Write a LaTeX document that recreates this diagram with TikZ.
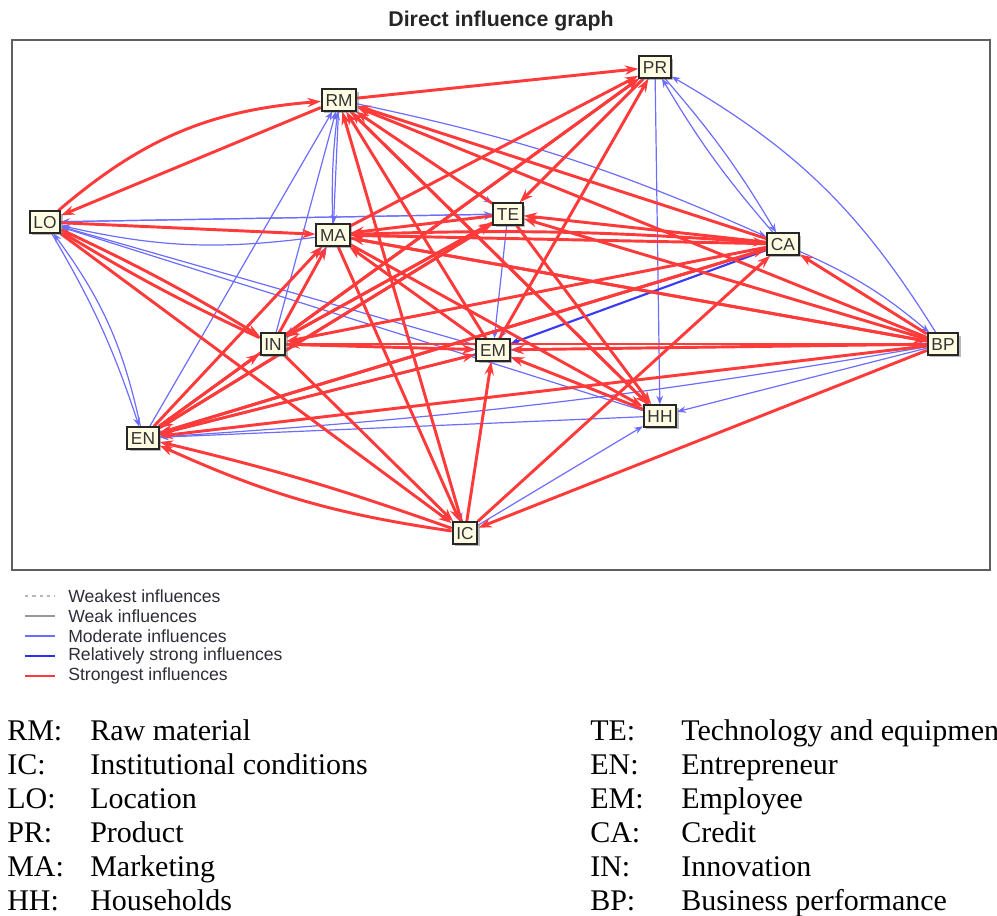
\documentclass[tikz,border=0pt]{standalone}
\usepackage{fontspec}
\setmainfont{Liberation Serif}
\setsansfont{Liberation Sans}
\usetikzlibrary{arrows.meta,shadows,backgrounds}
\definecolor{cream}{RGB}{255,252,228}
\definecolor{redE}{RGB}{255,58,58}
\definecolor{blueM}{RGB}{108,108,255}
\definecolor{blueS}{RGB}{45,45,245}
\definecolor{frameC}{RGB}{95,95,95}
\definecolor{legendC}{RGB}{45,45,55}

\begin{document}
\begin{tikzpicture}[x=0.75pt,y=-0.75pt,
  fac/.style={draw=black!85, line width=1.4pt, fill=cream,
    font=\sffamily\fontsize{13}{13}\selectfont, text=black!80, inner xsep=2.8pt, inner ysep=0pt,
    minimum height=16pt, text height=9.3pt, text depth=0pt,
    drop shadow={shadow xshift=2pt, shadow yshift=-2pt, fill=black!55}},
  strongest/.style={draw=redE, line width=2.2pt, -{Stealth[length=10pt,width=7pt]}},
  moderate/.style={draw=blueM, line width=0.9pt, -{Stealth[length=6.5pt,width=5pt]}},
  relstrong/.style={draw=blueS!80!blueM, line width=1.6pt, -{Stealth[length=7pt,width=5.5pt]}},
  legtext/.style={anchor=west, inner sep=0pt, text=legendC, font=\sffamily\fontsize{13.2}{14}\selectfont},
  keytext/.style={anchor=base west, inner sep=0pt, font=\fontsize{22.5}{25}\selectfont},
]
\useasboundingbox (0,0) rectangle (997,915);

% title and frame
\node[font=\sffamily\bfseries\fontsize{16}{18}\selectfont, text=black!85] (title) at (501,21) {Direct influence graph};
\draw[frameC, line width=1.6pt] (12,40) rectangle (990,570);

% factors
\node[fac] (RM) at (339,100) {RM};
\node[fac] (PR) at (655,67)  {PR};
\node[fac] (LO) at (45,222)  {LO};
\node[fac] (MA) at (333,235) {MA};
\node[fac] (TE) at (508,214) {TE};
\node[fac] (CA) at (783,244) {CA};
\node[fac] (IN) at (273,344) {IN};
\node[fac] (EM) at (493,350) {EM};
\node[fac] (BP) at (943,344) {BP};
\node[fac] (HH) at (660,416) {HH};
\node[fac] (EN) at (143,438) {EN};
\node[fac] (IC) at (465,533) {IC};

\begin{pgfonlayer}{background}
% moderate influences
\foreach \a/\b in {RM/MA, LO/TE, EM/LO, HH/LO, EN/RM, IN/RM, PR/HH, PR/IN, PR/EM,
                   RM/TE, MA/TE, BP/EM, HH/EM, BP/HH, BP/EN, HH/EN, EM/IN, BP/IN,
                   IN/MA, IC/HH, RM/IC, MA/IC, TE/EM, EM/BP, EN/MA, IN/EM, CA/EN,
                   TE/LO}
  \draw[moderate] (\a) -- (\b);
\draw[moderate] (MA) to[bend left=4] (RM);
\draw[moderate] (MA) to[bend left=10] (LO);
\draw[moderate] (LO) to[bend left=6] (EN);
\draw[moderate] (EN) to[bend right=12] (LO);
\draw[moderate] (PR) to[bend left=5] (CA);
\draw[moderate] (CA) to[bend left=5] (PR);
\draw[moderate] (BP) to[bend right=14] (PR);
\draw[moderate] (RM) to[bend left=6] (CA);
\draw[moderate] (CA) to[bend left=8] (BP);
\draw[moderate] (BP) to[bend left=3] (EN);

% relatively strong influences
\draw[relstrong] (CA) -- (EM);
\draw[relstrong] (EM) -- (EN);

% strongest influences
\foreach \a/\b in {RM/LO, LO/MA, LO/IC, RM/PR, MA/PR, IN/PR, EN/PR, EM/PR, PR/TE,
                   TE/RM, EM/RM, HH/RM, CA/RM, BP/RM, IC/RM,
                   TE/MA, CA/MA, BP/MA, CA/TE, BP/TE, TE/IN, TE/EN, BP/IN, CA/IN,
                   EN/MA, EN/IN, EN/TE, EN/CA, EN/EM, IN/EM, IN/IC, MA/IC,
                   IC/EM, IC/CA, BP/IC, MA/HH, TE/HH, RM/HH, HH/EM, BP/CA,
                   BP/EN, BP/EM, IN/MA, IN/TE, CA/EN, MA/BP, EM/MA}
  \draw[strongest] (\a) -- (\b);
\draw[strongest] (LO) to[bend left=18] (RM);
\draw[strongest] (LO) to[bend left=3] (IN);
\draw[strongest] (IN) to[bend left=3] (LO);
\draw[strongest] (IC) to[bend left=8] (EN);
\draw[strongest] (IC) to[bend right=3] (EN);
\draw[strongest] (MA) to[bend left=3] (CA);
\end{pgfonlayer}

% legend
\coordinate (l1a) at (25,596); \coordinate (l1b) at (55,596);
\coordinate (l2a) at (25,616); \coordinate (l2b) at (55,616);
\coordinate (l3a) at (25,636); \coordinate (l3b) at (55,636);
\coordinate (l4a) at (25,656); \coordinate (l4b) at (55,656);
\coordinate (l5a) at (25,676); \coordinate (l5b) at (55,676);
\draw[gray!55, line width=1pt, dash pattern=on 2.5pt off 3pt] (l1a) -- (l1b);
\draw[gray!80, line width=1.3pt] (l2a) -- (l2b);
\draw[blueM, line width=1pt] (l3a) -- (l3b);
\draw[blueS, line width=1.8pt] (l4a) -- (l4b);
\draw[redE, line width=2pt] (l5a) -- (l5b);
\node[legtext] (lg1) at (68,596) {Weakest influences};
\node[legtext] (lg2) at (68,616) {Weak influences};
\node[legtext] (lg3) at (68,636) {Moderate influences};
\node[legtext] (lg4) at (68,656) {Relatively strong influences};
\node[legtext] (lg5) at (68,676) {Strongest influences};

% key to abbreviations
\node[keytext] (k1a) at (7,740) {RM:};  \node[keytext] (k1b) at (90,740) {Raw material};
\node[keytext] (k2a) at (7,774) {IC:};  \node[keytext] (k2b) at (90,774) {Institutional conditions};
\node[keytext] (k3a) at (7,808) {LO:};  \node[keytext] (k3b) at (90,808) {Location};
\node[keytext] (k4a) at (7,842) {PR:};  \node[keytext] (k4b) at (90,842) {Product};
\node[keytext] (k5a) at (7,876) {MA:};  \node[keytext] (k5b) at (90,876) {Marketing};
\node[keytext] (k6a) at (7,910) {HH:};  \node[keytext] (k6b) at (90,910) {Households};
\node[keytext] (k7a) at (590,740) {TE:}; \node[keytext] (k7b) at (681,740) {Technology and equipment};
\node[keytext] (k8a) at (590,774) {EN:}; \node[keytext] (k8b) at (681,774) {Entrepreneur};
\node[keytext] (k9a) at (590,808) {EM:}; \node[keytext] (k9b) at (681,808) {Employee};
\node[keytext] (k10a) at (590,842) {CA:}; \node[keytext] (k10b) at (681,842) {Credit};
\node[keytext] (k11a) at (590,876) {IN:}; \node[keytext] (k11b) at (681,876) {Innovation};
\node[keytext] (k12a) at (590,910) {BP:}; \node[keytext] (k12b) at (681,910) {Business performance};
\end{tikzpicture}
\end{document}
